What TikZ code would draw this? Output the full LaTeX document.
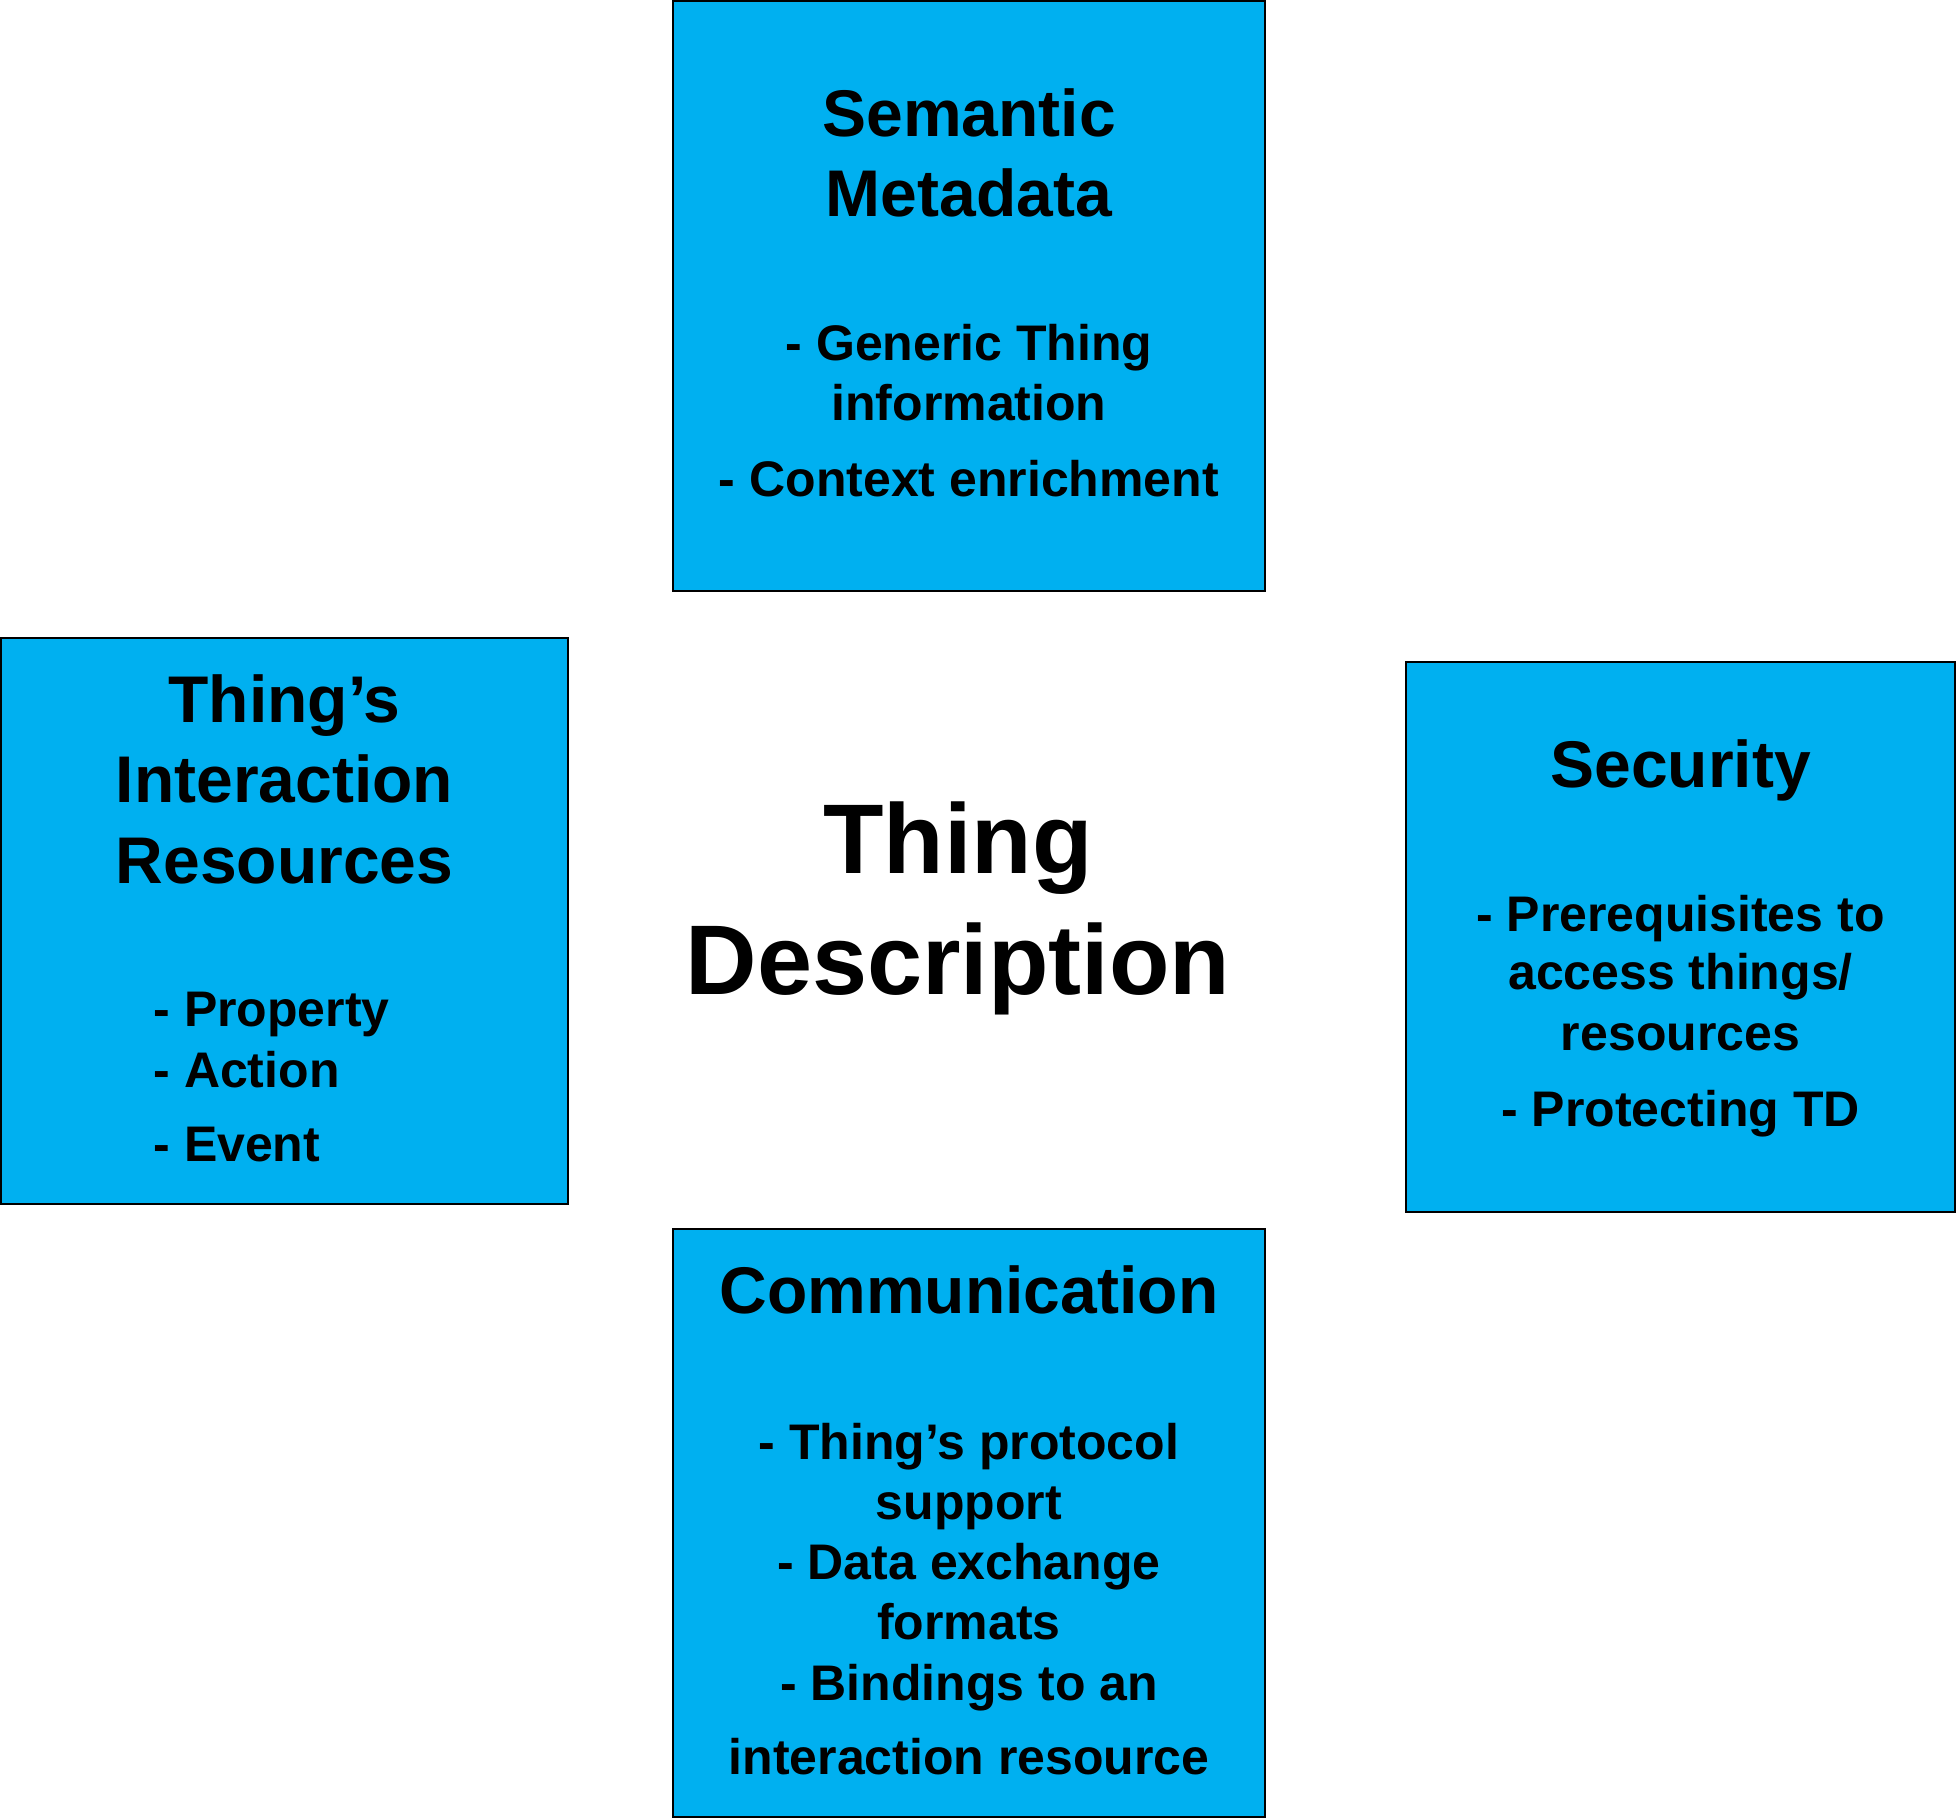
\documentclass[tikz,border=0pt]{standalone}
\usepackage{fontspec}
\setmainfont{Liberation Sans}
\definecolor{tdblue}{HTML}{00B0F0}

\begin{document}
\begin{tikzpicture}[x=1pt, y=-1pt,
    block/.style={rectangle, draw=black, fill=tdblue, line width=1.5pt, inner sep=0pt},
    heading/.style={anchor=base, font=\bfseries\fontsize{66}{80}\selectfont},
    item/.style={anchor=base, font=\bfseries\fontsize{50}{60}\selectfont},
    itemleft/.style={item, anchor=base west},
    centre/.style={anchor=base, font=\bfseries\fontsize{99}{120}\selectfont}]
    \useasboundingbox (0,0) rectangle (1957,1820);

    % Define positions of the boxes
    \node[block, minimum width=592pt, minimum height=590pt] (semantic) at (969,296) {};
    \node[block, minimum width=567pt, minimum height=566pt] (interaction) at (284.5,921) {};
    \node[block, minimum width=549pt, minimum height=550pt] (security) at (1680.5,937) {};
    \node[block, minimum width=592pt, minimum height=588pt] (communication) at (969,1523) {};

    % Semantic metadata
    \node[heading] (sm1) at (969,136) {Semantic};
    \node[heading] (sm2) at (969,216) {Metadata};
    \node[item] (sm3) at (969,360) {- Generic Thing};
    \node[item] (sm4) at (969,420) {information};
    \node[item] (sm5) at (969,496) {- Context enrichment};

    % Interaction resources
    \node[heading] (ir1) at (284.5,722) {Thing’s};
    \node[heading] (ir2) at (284.5,802) {Interaction};
    \node[heading] (ir3) at (284.5,883) {Resources};
    \node[itemleft] (ir4) at (150,1026) {- Property};
    \node[itemleft] (ir5) at (150,1087) {- Action};
    \node[itemleft] (ir6) at (150,1161) {- Event};

    % Security
    \node[heading] (se1) at (1680.5,787) {Security};
    \node[item] (se2) at (1680.5,931) {- Prerequisites to};
    \node[item] (se3) at (1680.5,989) {access things/};
    \node[item] (se4) at (1680.5,1050) {resources};
    \node[item] (se5) at (1680.5,1126) {- Protecting TD};

    % Communication
    \node[heading] (co1) at (969,1313) {Communication};
    \node[item] (co2) at (969,1459) {- Thing’s protocol};
    \node[item] (co3) at (969,1519) {support};
    \node[item] (co4) at (969,1579) {- Data exchange};
    \node[item] (co5) at (969,1639) {formats};
    \node[item] (co6) at (969,1700) {- Bindings to an};
    \node[item] (co7) at (969,1774) {interaction resource};

    % Thing Description in the middle
    \node[centre] (td1) at (958,873) {Thing};
    \node[centre] (td2) at (958,994) {Description};
\end{tikzpicture}
\end{document}
